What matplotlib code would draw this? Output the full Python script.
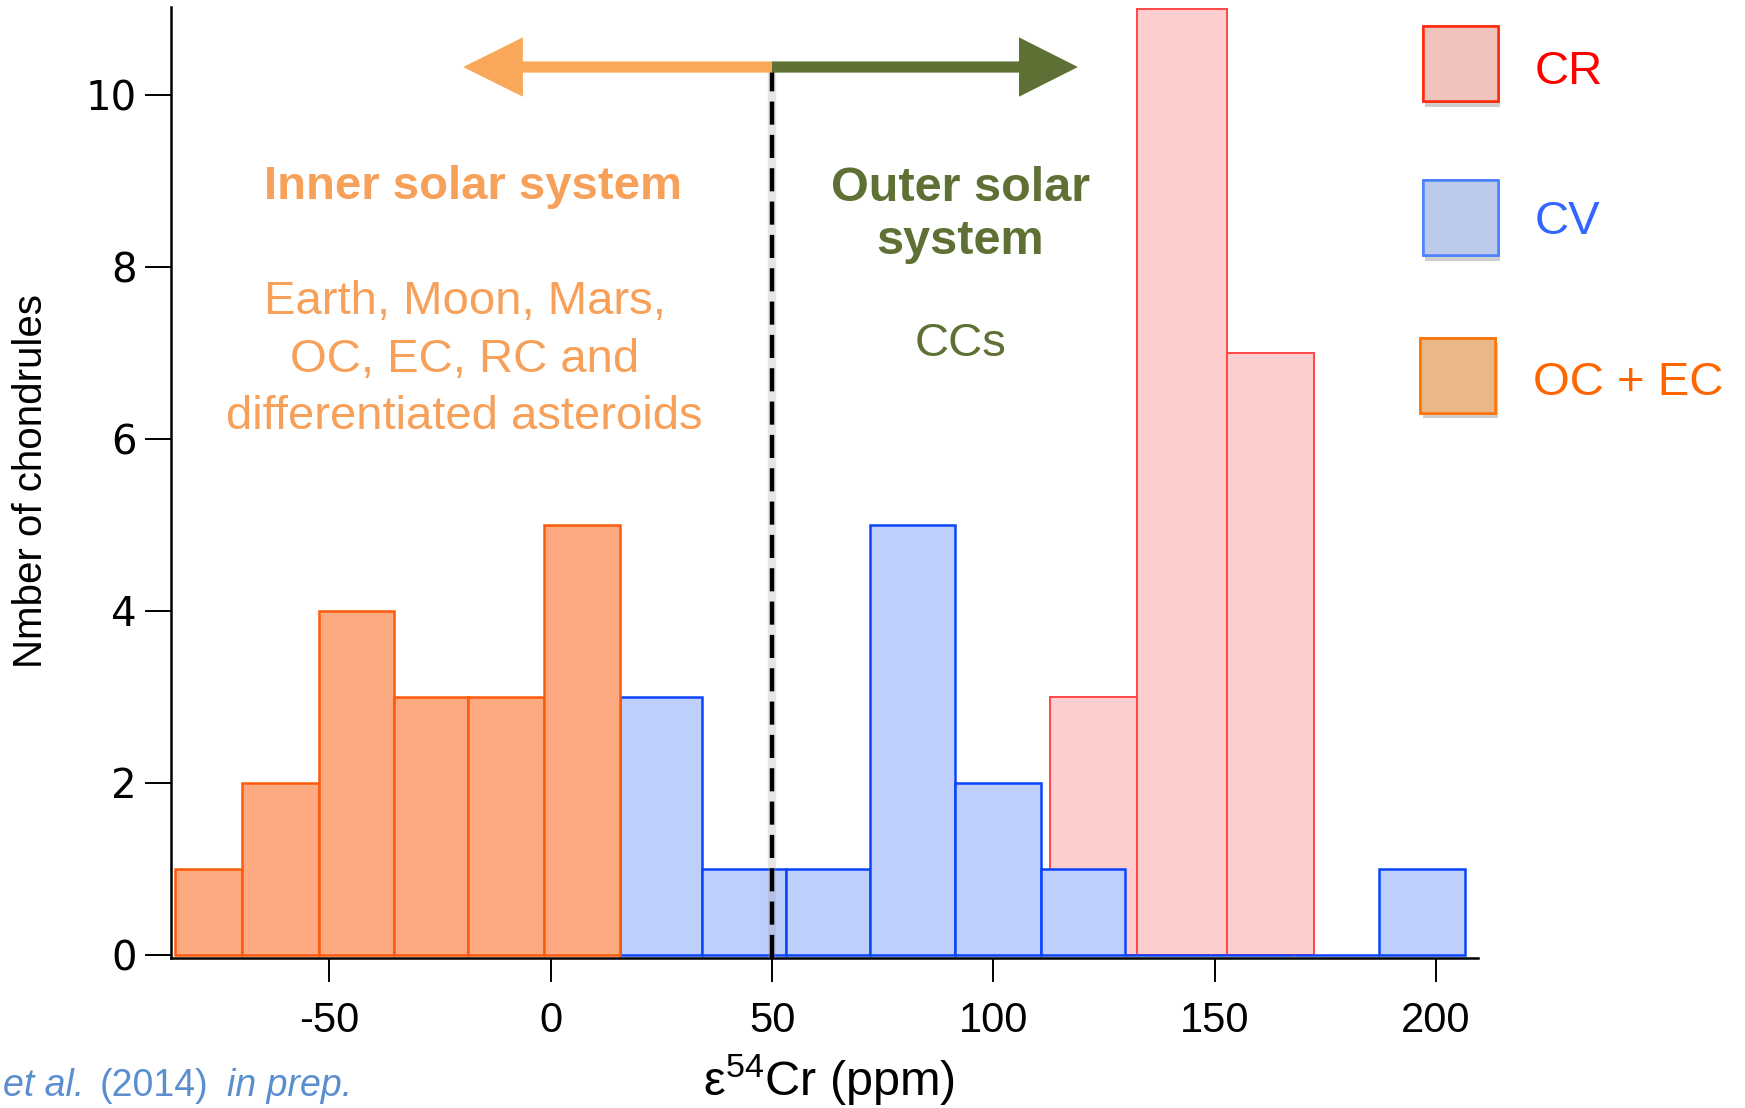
import matplotlib
matplotlib.use("Agg")
import matplotlib.pyplot as plt
import matplotlib.patheffects as pe
from matplotlib.patches import FancyArrow, Rectangle
from matplotlib.ticker import FuncFormatter

plt.rcParams['font.family'] = ['Liberation Sans', 'DejaVu Sans']
plt.rcParams['mathtext.default'] = 'regular'
plt.rcParams['axes.unicode_minus'] = False

# histogram bins (epsilon 54Cr, ppm) and counts per group
oc_edges = [-84.8, -69.7, -52.3, -35.5, -18.6, -1.5, 15.6]
oc_counts = [1, 2, 4, 3, 3, 5]
cv_edges = [15.6, 34.2, 53.1, 72.2, 91.3, 110.7, 129.8, 148.9, 168.0, 187.1, 206.5]
cv_counts = [3, 1, 1, 5, 2, 1, 0, 0, 0, 1]
cr_edges = [112.7, 132.5, 152.7, 172.5]
cr_counts = [3, 11, 7]

boundary = 50
arrow_y = 10.32
inner_tip = -19.8
outer_tip = 119.1

legend_names = ['CR', 'CV', 'OC + EC']
yticks = [0, 2, 4, 6, 8, 10]
xticks = [-50, 0, 50, 100, 150, 200]

W, H = 1745, 1108
fig = plt.figure(figsize=(W / 100, H / 100), dpi=100)
ax = fig.add_axes([171 / W, 1 - 958 / H, 1307 / W, (958 - 6.8) / H])
ax.set_xlim(-85.8, 209.5)
ax.set_ylim(-0.035, 11.02)


def draw_hist(edges, counts, face, edge, lw, z):
    lefts = edges[:-1]
    widths = [b - a for a, b in zip(edges[:-1], edges[1:])]
    ax.bar(lefts, counts, width=widths, align='edge', color=face,
           edgecolor=edge, linewidth=lw, zorder=z)


draw_hist(cr_edges, cr_counts, '#FECDCE', '#FF4646', 1.4, 2)
draw_hist(cv_edges, cv_counts, '#BFCFFC', '#0A44FF', 1.8, 3)
draw_hist(oc_edges, oc_counts, '#FEAA80', '#FF5A0A', 1.8, 4)

# dashed divider between inner and outer solar system
ax.plot([boundary, boundary], [-0.035, arrow_y], color='#999999', lw=6,
        alpha=0.25, zorder=5, clip_on=False, solid_capstyle='butt')
ax.plot([boundary, boundary], [-0.035, arrow_y], color='black', lw=3.2,
        dashes=(5.2, 2.3), zorder=6, clip_on=False)

ax.add_patch(FancyArrow(boundary, arrow_y, inner_tip - boundary, 0, width=0.13,
                        head_width=0.69, head_length=13.5, length_includes_head=True,
                        color='#F9A85A', lw=0, zorder=7))
ax.add_patch(FancyArrow(boundary, arrow_y, outer_tip - boundary, 0, width=0.13,
                        head_width=0.69, head_length=13.3, length_includes_head=True,
                        color='#5F7034', lw=0, zorder=7))

ax.text(-17.5, 8.93, 'Inner solar system', color='#F7A05A', fontsize=34,
        fontweight='bold', ha='center', va='center')
ax.text(-19.5, 6.92, 'Earth, Moon, Mars,\nOC, EC, RC and\ndifferentiated asteroids',
        color='#F7A05A', fontsize=34, ha='center', va='center', linespacing=1.39)
ax.text(92.5, 8.6, 'Outer solar\nsystem', color='#5F7034', fontsize=35,
        fontweight='bold', ha='center', va='center', linespacing=1.24)
ax.text(92.5, 7.1, 'CCs', color='#5F7034', fontsize=34, ha='center', va='center')

for s in ['top', 'right']:
    ax.spines[s].set_visible(False)
for s in ['left', 'bottom']:
    ax.spines[s].set_linewidth(1.8)

ax.set_yticks(yticks)
ax.set_xticks(xticks)
ax.xaxis.set_major_formatter(FuncFormatter(lambda v, p: '%d' % v))
ax.tick_params(axis='y', direction='out', length=18.7, width=1.4, pad=6,
               labelsize=29)
ax.tick_params(axis='x', direction='out', length=17, width=1.4, pad=14,
               labelsize=30)
for lab in ax.get_yticklabels():
    lab.set_family('DejaVu Sans')

fig.text(31 / W, 1 - 481 / H, 'Nmber of chondrules', rotation=90, fontsize=29,
         ha='center', va='center')
fig.text(829 / W, 1 - 1080 / H, r'ε$^{54}$Cr (ppm)', fontsize=35,
         ha='center', va='center')

# reference note at the bottom edge
note_y = 1 - 1104 / H
fig.text(3 / W, note_y, 'et al.', fontsize=27, style='italic',
         color='#5B8ECF', ha='left', va='bottom')
fig.text(100 / W, note_y, '(2014)', fontsize=27, color='#5B8ECF',
         ha='left', va='bottom')
fig.text(227 / W, note_y, 'in prep.', fontsize=27, style='italic',
         color='#5B8ECF', ha='left', va='bottom')

# legend boxes
box_faces = ['#EFC2BC', '#BCCBEC', '#E9B78A']
box_edges = ['#FF2A0A', '#4B80FF', '#FF7300']
text_colors = ['#FF0000', '#3366FF', '#FF6600']
box_x = [1422.5, 1422.5, 1420]
box_top = [26, 180.4, 337.5]
label_x = [1535, 1535, 1533]
label_y = [72, 222, 383]
for i, name in enumerate(legend_names):
    r = Rectangle((box_x[i] / W, 1 - (box_top[i] + 75) / H), 75 / W, 75 / H,
                  transform=fig.transFigure, facecolor=box_faces[i],
                  edgecolor=box_edges[i], linewidth=1.8)
    r.set_path_effects([pe.withSimplePatchShadow(offset=(2, -4), alpha=0.25),
                        pe.Normal()])
    fig.add_artist(r)
    fig.text(label_x[i] / W, 1 - label_y[i] / H, name, color=text_colors[i],
             fontsize=34, ha='left', va='center')

fig.savefig('out.png', dpi=100)
